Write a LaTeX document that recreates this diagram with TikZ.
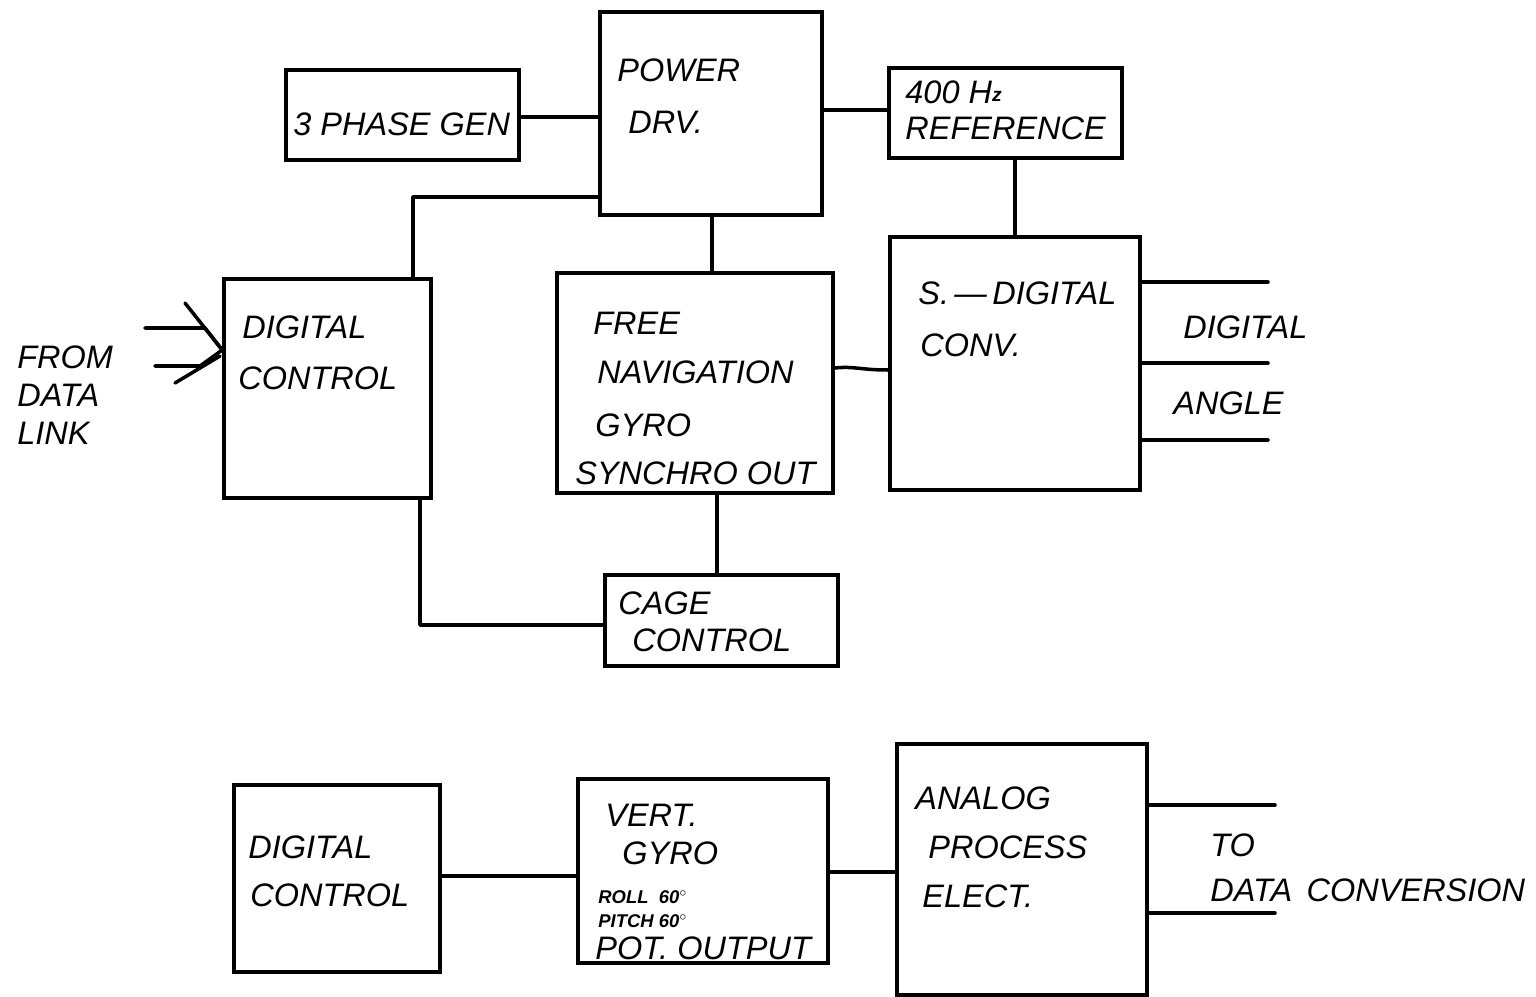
\documentclass[tikz,border=0pt]{standalone}
\usepackage{fontspec}
\setmainfont{Liberation Sans}
\begin{document}
\begin{tikzpicture}[x=0.02cm,y=-0.02cm,
  blk/.style={draw,line width=2pt,inner sep=0pt},
  wire/.style={line width=2pt,line cap=round,line join=round},
  lbl/.style={anchor=west,inner sep=0pt,font=\fontsize{18.5}{22}\selectfont\itshape},
  sml/.style={anchor=west,inner sep=0pt,font=\fontsize{10.5}{12}\selectfont\itshape\bfseries}]
\useasboundingbox (0,0) rectangle (1536,997);
% boxes
\node[blk,minimum width=233*0.02cm,minimum height=90*0.02cm] (gen) at (402.5,115) {};
\node[blk,minimum width=222*0.02cm,minimum height=203*0.02cm] (pwr) at (711,113.5) {};
\node[blk,minimum width=233*0.02cm,minimum height=90*0.02cm] (ref) at (1005.5,113) {};
\node[blk,minimum width=207*0.02cm,minimum height=219*0.02cm] (dc1) at (327.5,388.5) {};
\node[blk,minimum width=276*0.02cm,minimum height=220*0.02cm] (fng) at (695,383) {};
\node[blk,minimum width=250*0.02cm,minimum height=253*0.02cm] (sdc) at (1015,363.5) {};
\node[blk,minimum width=233*0.02cm,minimum height=91*0.02cm] (cage) at (721.5,620.5) {};
\node[blk,minimum width=206*0.02cm,minimum height=187*0.02cm] (dc2) at (337,878.5) {};
\node[blk,minimum width=250*0.02cm,minimum height=184*0.02cm] (vg) at (703,871) {};
\node[blk,minimum width=250*0.02cm,minimum height=251*0.02cm] (ape) at (1022,869.5) {};
% connectors
\draw[wire] (gen.east |- 0,117) -- (pwr.west |- 0,117);
\draw[wire] (pwr.east |- 0,110) -- (ref.west |- 0,110);
\draw[wire] (dc1.north -| 413,0) -- (413,197) -- (pwr.west |- 0,197);
\draw[wire] (pwr.south -| 712,0) -- (fng.north -| 712,0);
\draw[wire] (ref.south -| 1015,0) -- (sdc.north -| 1015,0);
\draw[wire] (fng.east |- 0,368) .. controls (855,366) and (860,370) .. (sdc.west |- 0,370);
\draw[wire] (fng.south -| 717,0) -- (cage.north -| 717,0);
\draw[wire] (dc1.south -| 420,0) -- (420,625) -- (cage.west |- 0,625);
\coordinate (o1) at (1268,282);
\coordinate (o2) at (1268,363);
\coordinate (o3) at (1268,440);
\draw[wire] (sdc.east |- o1) -- (o1);
\draw[wire] (sdc.east |- o2) -- (o2);
\draw[wire] (sdc.east |- o3) -- (o3);
\coordinate (tip) at (dc1.west |- 0,350);
\coordinate (a1) at (145,328);
\coordinate (a2) at (185,303);
\coordinate (a3) at (155,366);
\coordinate (a4) at (175,383);
\draw[wire] (a1) -- (205,328) -- (tip);
\draw[wire] (a2) -- (tip);
\draw[wire] (a3) -- (200,366) -- (tip);
\draw[wire] (a4) -- (220,356);
\draw[wire] (dc2.east |- 0,876) -- (vg.west |- 0,876);
\draw[wire] (vg.east |- 0,872) -- (ape.west |- 0,872);
\coordinate (p1) at (1275,805);
\coordinate (p2) at (1275,913);
\draw[wire] (ape.east |- p1) -- (p1);
\draw[wire] (ape.east |- p2) -- (p2);
% labels
\node[lbl] (t1) at (293,124) {3 PHASE GEN};
\node[lbl] (t2) at (617,70) {POWER};
\node[lbl] (t3) at (628,122) {DRV.};
\node[lbl] (t4) at (905,92) {400 H\raisebox{0.1ex}{\fontsize{11}{12}\selectfont\bfseries z}};
\node[lbl] (t5) at (905,128) {REFERENCE};
\node[lbl] (t6) at (242,327) {DIGITAL};
\node[lbl] (t7) at (238,378) {CONTROL};
\node[lbl] (t8) at (593,323) {FREE};
\node[lbl] (t9) at (597,372) {NAVIGATION};
\node[lbl] (t10) at (595,425) {GYRO};
\node[lbl] (t11) at (575,473) {SYNCHRO OUT};
\node[lbl] (t12) at (918,293) {S.\,---\,DIGITAL};
\node[lbl] (t13) at (920,345) {CONV.};
\node[lbl] (t14) at (1183,327) {DIGITAL};
\node[lbl] (t15) at (1173,403) {ANGLE};
\node[lbl] (t16) at (17,357) {FROM};
\node[lbl] (t17) at (17,395) {DATA};
\node[lbl] (t18) at (17,433) {LINK};
\node[lbl] (t19) at (618,603) {CAGE};
\node[lbl] (t20) at (632,640) {CONTROL};
\node[lbl] (t21) at (248,847) {DIGITAL};
\node[lbl] (t22) at (250,895) {CONTROL};
\node[lbl] (t23) at (605,815) {VERT.};
\node[lbl] (t24) at (622,853) {GYRO};
\node[sml] (t25) at (598,897) {ROLL \ 60$^\circ$};
\node[sml] (t26) at (598,921) {PITCH 60$^\circ$};
\node[lbl] (t27) at (595,948) {POT. OUTPUT};
\node[lbl] (t28) at (915,798) {ANALOG};
\node[lbl] (t29) at (928,847) {PROCESS};
\node[lbl] (t30) at (922,896) {ELECT.};
\node[lbl] (t31) at (1210,845) {TO};
\node[lbl] (t32) at (1210,890) {DATA\, CONVERSION};
\end{tikzpicture}
\end{document}
